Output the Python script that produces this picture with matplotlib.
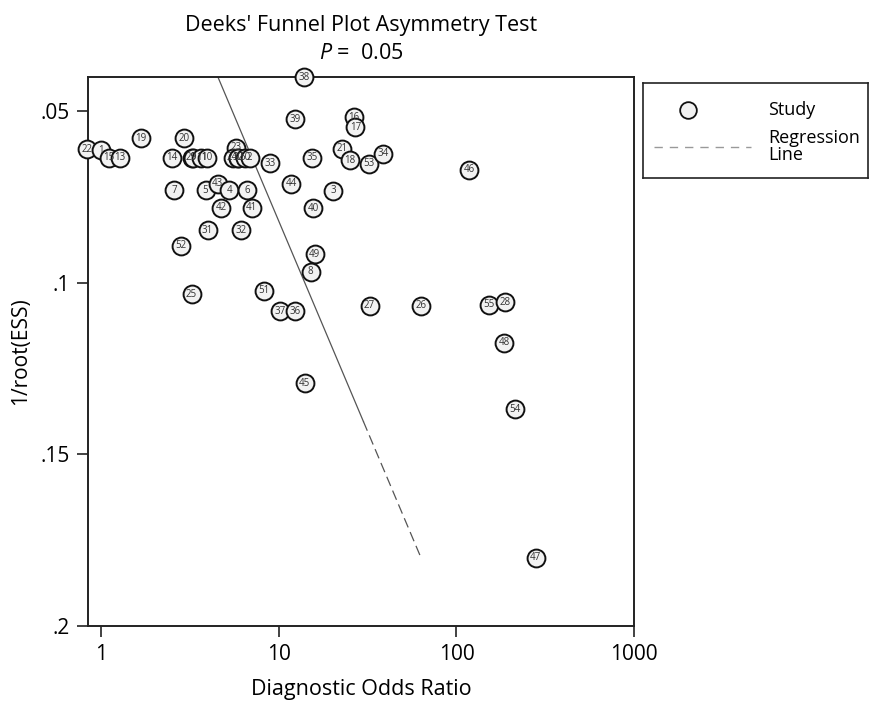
import matplotlib
matplotlib.use("Agg")
import matplotlib.pyplot as plt

plt.rcParams['font.family'] = ['Open Sans', 'DejaVu Sans']
plt.rcParams['mathtext.fontset'] = 'custom'
plt.rcParams['mathtext.it'] = 'Open Sans:italic'
plt.rcParams['mathtext.rm'] = 'Open Sans'

# ---- data ----
study_ids = [22, 1, 15, 13, 19, 20, 14, 29, 9, 11, 10,
             23, 24, 12, 30, 50, 2, 33, 39, 44, 7, 5, 43, 4, 6, 42, 41,
             31, 32, 52, 49, 8, 25, 51, 37, 36, 40, 3, 38, 16, 17, 21,
             18, 53, 34, 35, 46, 26, 55, 28, 48, 54, 27, 45, 47]
dor = [0.832, 1.00, 1.102, 1.271, 1.675, 2.924, 2.483, 3.22, 3.29, 3.66, 3.94,
       5.71, 5.475, 5.89, 5.90, 6.42, 6.85, 8.88, 12.35, 11.76, 2.569, 3.858, 4.507, 5.239, 6.614, 4.704, 7.03,
       3.959, 6.15, 2.791, 15.9, 15.1, 3.218, 8.21, 10.1, 12.27, 15.56, 20.16, 13.84, 26.36, 26.95, 22.77,
       25.12, 32.0, 38.4, 15.36, 117.4, 63.05, 151.6, 188.2, 185.8, 213.1, 32.4, 13.97, 278.7]
inv_root_ess = [0.0611, 0.0613, 0.0635, 0.0635, 0.0578, 0.0578, 0.0635, 0.0635, 0.0635, 0.0635, 0.0635,
                0.0606, 0.0635, 0.0635, 0.0635, 0.0635, 0.0635, 0.0652, 0.0523, 0.0711, 0.0730, 0.0730, 0.0711, 0.0730, 0.0730, 0.0781, 0.0781,
                0.0847, 0.0847, 0.0892, 0.0917, 0.0967, 0.1033, 0.1023, 0.1082, 0.1082, 0.0782, 0.0731, 0.0400, 0.0517, 0.0546, 0.0609,
                0.0643, 0.0653, 0.0624, 0.0635, 0.0670, 0.1067, 0.1064, 0.1056, 0.1175, 0.1368, 0.1067, 0.1292, 0.1801]

# regression line: solid part then dashed extension
reg_solid_x = [4.53, 29.9]
reg_solid_y = [0.040, 0.1404]
reg_dash_x = [29.9, 63.1]
reg_dash_y = [0.1404, 0.1801]

x_ticks = [1, 10, 100, 1000]
x_ticklabels = ['1', '10', '100', '1000']
y_ticks = [0.05, 0.1, 0.15, 0.2]
y_ticklabels = ['.05', '.1', '.15', '.2']

W, H = 869, 703
fig = plt.figure(figsize=(W / 100, H / 100), dpi=100)
ax = fig.add_axes([88 / W, 1 - 626 / H, (634 - 88) / W, (626 - 77) / H])

ax.set_xscale('log')
ax.set_xlim(0.84, 1000)
ax.set_ylim(0.2, 0.04)

ax.plot(reg_solid_x, reg_solid_y, color='#555555', lw=0.9, zorder=2)
ax.plot(reg_dash_x, reg_dash_y, color='#555555', lw=0.9, zorder=2,
        dashes=(8, 4))

ax.scatter(dor, inv_root_ess, s=165, facecolor='#f2f2f2', edgecolor='#111111',
           linewidths=1.4, zorder=3, clip_on=False)
for sid, xv, yv in zip(study_ids, dor, inv_root_ess):
    ax.text(xv, yv, str(sid), fontsize=7, ha='center', va='center',
            color='#333333', zorder=4, clip_on=False)

ax.set_xticks(x_ticks)
ax.set_xticklabels(x_ticklabels)
ax.xaxis.set_minor_locator(matplotlib.ticker.NullLocator())
ax.set_yticks(y_ticks)
ax.set_yticklabels(y_ticklabels)
ax.tick_params(axis='both', direction='out', length=8, width=1.2,
               labelsize=15, color='#222222', pad=5)
for sp in ax.spines.values():
    sp.set_linewidth(1.4)
    sp.set_color('#222222')

ax.set_xlabel('Diagnostic Odds Ratio', fontsize=15.5, labelpad=10)
ax.set_ylabel('1/root(ESS)', fontsize=15, labelpad=7)
ax.set_title("Deeks' Funnel Plot Asymmetry Test\n$P$ =  0.05", fontsize=15.5,
             pad=13, linespacing=1.45)

# legend panel
lax = fig.add_axes([643 / W, 1 - 178 / H, (868 - 643) / W, (178 - 83) / H])
lax.set_xlim(0, 1)
lax.set_ylim(0, 1)
lax.set_xticks([])
lax.set_yticks([])
for sp in lax.spines.values():
    sp.set_linewidth(1.2)
    sp.set_color('#222222')
lax.plot([0.2], [0.72], marker='o', ms=12, mfc='#f2f2f2', mec='#111111', mew=1.3)
lax.text(0.555, 0.72, 'Study', fontsize=13, va='center', ha='left')
lax.plot([0.05, 0.48], [0.33, 0.33], color='#999999', lw=1.0, dashes=(6, 5))
lax.text(0.555, 0.33, 'Regression\nLine', fontsize=13, va='center', ha='left',
         linespacing=0.9)

fig.savefig('out.png', dpi=100)
